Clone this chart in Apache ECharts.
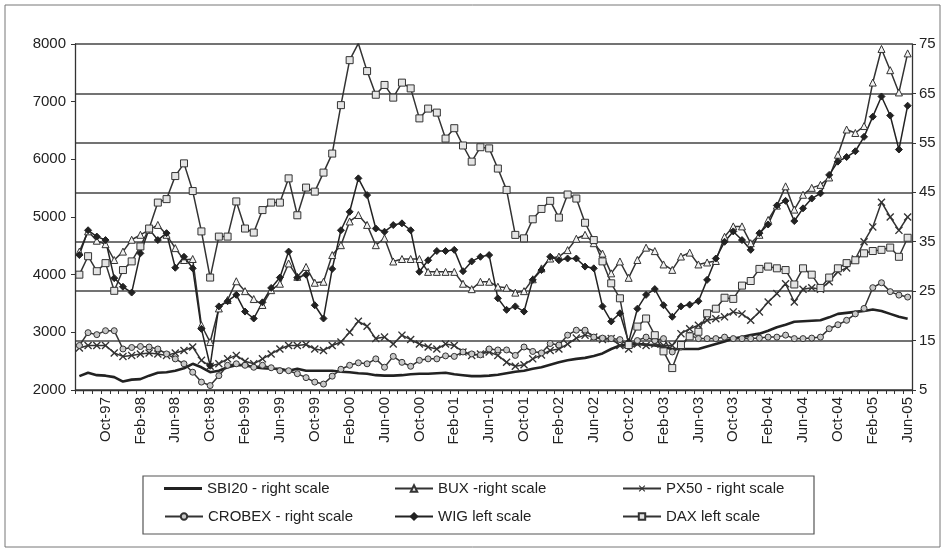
<!DOCTYPE html>
<html>
<head>
<meta charset="utf-8">
<script src="https://cdn.jsdelivr.net/npm/echarts@6/dist/echarts.min.js"></script>
<style>
html,body{margin:0;padding:0;background:#fff;}
#chart{width:949px;height:554px;}
</style>
</head>
<body>
<div id="chart"></div>
<script>
const categories = [
 'Jul-97','Aug-97','Sep-97','Oct-97','Nov-97','Dec-97',
 'Jan-98','Feb-98','Mar-98','Apr-98','May-98','Jun-98','Jul-98','Aug-98','Sep-98','Oct-98','Nov-98','Dec-98',
 'Jan-99','Feb-99','Mar-99','Apr-99','May-99','Jun-99','Jul-99','Aug-99','Sep-99','Oct-99','Nov-99','Dec-99',
 'Jan-00','Feb-00','Mar-00','Apr-00','May-00','Jun-00','Jul-00','Aug-00','Sep-00','Oct-00','Nov-00','Dec-00',
 'Jan-01','Feb-01','Mar-01','Apr-01','May-01','Jun-01','Jul-01','Aug-01','Sep-01','Oct-01','Nov-01','Dec-01',
 'Jan-02','Feb-02','Mar-02','Apr-02','May-02','Jun-02','Jul-02','Aug-02','Sep-02','Oct-02','Nov-02','Dec-02',
 'Jan-03','Feb-03','Mar-03','Apr-03','May-03','Jun-03','Jul-03','Aug-03','Sep-03','Oct-03','Nov-03','Dec-03',
 'Jan-04','Feb-04','Mar-04','Apr-04','May-04','Jun-04','Jul-04','Aug-04','Sep-04','Oct-04','Nov-04','Dec-04',
 'Jan-05','Feb-05','Mar-05','Apr-05','May-05','Jun-05'
];

const leftTicks = { min: 2000, max: 8000, step: 1000 };
const rightTicks = { min: 5, max: 75, step: 10 };

const sbi20 = [
 7.8,8.5,8.0,7.9,7.6,6.7,7.1,7.2,7.9,8.5,8.6,8.9,9.4,10.3,9.6,8.6,8.9,9.6,10.0,10.0,
 9.6,9.4,9.3,9.3,8.9,9.3,8.9,8.9,8.9,8.9,8.7,8.6,8.4,8.3,8.0,7.9,7.9,8.0,8.2,8.3,
 8.3,8.4,8.5,8.2,8.0,7.8,7.8,7.9,8.1,8.4,8.7,8.9,9.3,9.6,10.1,10.6,11.0,11.3,11.5,11.9,
 12.4,13.3,14.0,14.2,14.3,14.2,14.0,13.7,13.3,13.3,13.3,13.3,13.8,14.3,14.8,15.4,15.7,16.1,16.4,17.0,
 17.7,18.2,18.8,18.9,19.0,19.1,19.7,20.4,20.6,20.8,21.0,21.3,21.0,20.4,19.8,19.4
];
const bux = [
 33.0,37.1,35.2,34.5,31.3,33.0,35.4,36.4,37.4,38.4,36.4,33.7,31.3,31.5,18.1,14.7,21.5,23.2,27.0,25.0,
 23.4,22.2,25.2,26.5,30.6,27.9,29.9,26.7,26.9,32.3,34.3,39.1,40.4,38.4,34.3,35.7,31.0,31.5,31.5,31.5,
 28.9,28.9,28.9,28.9,26.5,25.4,26.9,26.9,25.9,25.7,24.7,25.0,27.4,29.6,31.6,32.0,33.3,35.6,36.4,34.7,
 32.6,28.6,31.0,27.7,31.3,33.8,33.1,30.4,29.3,32.0,32.8,30.4,30.8,31.1,36.0,38.1,38.1,34.7,36.4,39.4,
 42.3,46.2,41.5,44.5,45.9,46.5,48.0,52.6,57.7,57.0,58.4,67.2,74.0,69.7,65.2,73.1
];
const px50 = [
 13.5,14.0,14.0,14.0,12.5,11.8,12.0,12.3,12.5,12.3,12.0,12.5,13.0,13.7,11.0,9.8,10.3,11.3,12.0,10.8,
 10.3,11.3,12.3,13.3,14.0,14.0,14.2,13.3,13.0,14.0,14.7,16.7,18.9,17.9,15.4,15.7,14.3,16.1,15.2,14.3,
 13.7,13.3,14.3,14.0,12.7,12.0,12.3,12.7,12.0,10.6,9.8,10.1,11.3,12.1,13.0,13.3,14.3,15.5,16.1,15.7,
 15.2,15.4,14.0,13.3,14.3,14.0,14.3,14.0,14.0,16.4,17.4,18.1,19.1,19.4,19.8,20.8,20.4,19.1,20.8,22.8,
 24.5,26.5,22.8,25.4,25.7,25.4,26.9,28.9,29.7,31.5,35.0,38.0,43.0,40.0,37.3,40.0
];
const crobex = [
 14.0,16.6,16.2,17.0,17.0,13.3,13.6,13.8,13.7,13.3,12.3,11.3,10.3,8.6,6.6,5.9,7.9,10.0,10.3,10.0,
 9.6,10.0,9.5,8.9,8.9,8.3,7.5,6.6,6.2,7.8,9.2,10.0,10.5,10.3,11.3,9.6,11.8,10.6,9.8,11.0,
 11.3,11.3,11.9,11.8,12.7,12.3,12.1,13.3,13.1,13.1,12.0,13.7,12.8,12.5,14.4,14.1,16.1,17.1,17.1,15.7,
 15.5,15.4,15.2,14.0,15.0,15.7,15.0,15.4,12.7,13.7,16.1,15.4,15.4,15.4,15.7,15.4,15.4,15.4,15.5,15.7,
 15.7,16.1,15.4,15.4,15.5,15.7,17.4,18.2,19.1,20.4,21.5,25.7,26.7,24.9,24.2,23.8
];
const wig = [
 4340,4770,4660,4600,3940,3790,3690,4370,4790,4600,4720,4120,4310,4110,3060,2420,3450,3540,3650,3360,
 3240,3520,3770,3950,4400,3950,4000,3470,3240,4100,4770,5090,5670,5380,4800,4745,4860,4890,4770,4050,
 4250,4410,4410,4430,4060,4230,4310,4340,3590,3390,3450,3360,3910,4080,4310,4250,4280,4280,4140,4110,
 3450,3190,3330,2830,3410,3650,3750,3470,3270,3450,3480,3540,3910,4280,4570,4750,4600,4430,4720,4870,
 5200,5280,4930,5150,5320,5410,5730,5960,6040,6140,6390,6740,7090,6760,6170,6930
];
const dax = [
 4000,4320,4060,4200,3720,4080,4230,4490,4800,5250,5310,5710,5930,5450,4750,3950,4660,4660,5270,4800,
 4730,5120,5250,5250,5670,5030,5510,5440,5770,6100,6940,7720,8010,7530,7120,7290,7070,7330,7230,6710,
 6880,6810,6360,6540,6240,5960,6210,6190,5840,5470,4690,4630,4960,5140,5280,4990,5390,5320,4900,4600,
 4230,3850,3590,2780,3100,3240,2950,2670,2380,2780,2930,3010,3330,3410,3600,3580,3810,3890,4100,4140,
 4110,4080,3830,4110,4000,3770,3950,4110,4200,4250,4370,4410,4430,4470,4310,4640
];

const names = ['SBI20 - right scale','BUX -right scale','PX50 - right scale','CROBEX - right scale','WIG left scale','DAX left scale'];

const FONT = 'Liberation Sans, Arial, sans-serif';
const INK = '#333';
const xMark = 'path://M0,1.2L1.2,0L5,3.8L8.8,0L10,1.2L6.2,5L10,8.8L8.8,10L5,6.2L1.2,10L0,8.8L3.8,5Z';
const thickLineIcon = 'path://M0,0H40V3H0Z';

function lineSeries(name, data, yIdx, extra) {
  return Object.assign({
    name: name, type: 'line', data: data, yAxisIndex: yIdx,
    showAllSymbol: true,
    lineStyle: { color: INK, width: 1.5 },
    itemStyle: { color: '#ddd', borderColor: INK, borderWidth: 1 },
    emphasis: { disabled: true },
    animation: false
  }, extra);
}

const chart = echarts.init(document.getElementById('chart'), null, { renderer: 'canvas' });

const legendPos = [[164, 481], [394, 481], [622, 481], [164, 509], [394, 509], [622, 509]];

const option = {
  backgroundColor: '#fff',
  animation: false,
  textStyle: { fontFamily: FONT },
  grid: { left: 75, right: 37, top: 44, bottom: 164 },
  legend: names.map((n, i) => ({
    data: [i === 0 ? { name: n, icon: thickLineIcon, itemStyle: { color: '#222' } } : n],
    left: legendPos[i][0], top: legendPos[i][1], padding: 0,
    itemWidth: 38, itemHeight: 8, itemGap: 0, selectedMode: false,
    textStyle: { fontSize: 15, color: '#222', fontFamily: FONT }
  })),
  xAxis: {
    type: 'category', data: categories, boundaryGap: true,
    axisLine: { lineStyle: { color: INK, width: 1.3 } },
    axisTick: { show: true, interval: 0, length: 4, lineStyle: { color: INK } },
    axisLabel: { interval: function (idx) { return idx % 4 === 3; }, rotate: 90, fontSize: 15, color: '#222', margin: 7, fontFamily: FONT },
    splitLine: { show: false }
  },
  yAxis: [
    {
      type: 'value', position: 'left', min: leftTicks.min, max: leftTicks.max, interval: leftTicks.step,
      axisLine: { show: true, lineStyle: { color: INK, width: 1.3 } },
      axisTick: { show: true, length: 4, lineStyle: { color: INK } },
      axisLabel: { fontSize: 15, color: '#222', margin: 9, fontFamily: FONT, formatter: function (v) { return String(v); } },
      splitLine: { show: false }
    },
    {
      type: 'value', position: 'right', min: rightTicks.min, max: rightTicks.max, interval: rightTicks.step,
      axisLine: { show: true, lineStyle: { color: INK, width: 1.3 } },
      axisTick: { show: true, length: 4, lineStyle: { color: INK } },
      axisLabel: { fontSize: 15, color: '#222', margin: 7, fontFamily: FONT },
      splitLine: { show: true, lineStyle: { color: '#444', width: 1.6 } }
    }
  ],
  graphic: [
    { type: 'rect', shape: { x: 5, y: 5, width: 935, height: 542 }, style: { fill: 'none', stroke: '#777', lineWidth: 1 }, silent: true, z: -1 },
    { type: 'rect', shape: { x: 143, y: 476, width: 671, height: 58 }, style: { fill: 'none', stroke: '#555', lineWidth: 1.2 }, silent: true }
  ],
  series: [
    lineSeries(names[0], sbi20, 1, { symbol: 'none', showSymbol: false, lineStyle: { color: '#222', width: 2.6 }, itemStyle: { color: '#222' } }),
    lineSeries(names[1], bux, 1, { symbol: 'triangle', symbolSize: 7, itemStyle: { color: '#f2f2f2', borderColor: INK, borderWidth: 1 } }),
    lineSeries(names[2], px50, 1, { symbol: xMark, symbolSize: 8, itemStyle: { color: INK, borderWidth: 0 } }),
    lineSeries(names[3], crobex, 1, { symbol: 'circle', symbolSize: 6, itemStyle: { color: '#c8c8c8', borderColor: INK, borderWidth: 1 } }),
    lineSeries(names[4], wig, 0, { symbol: 'diamond', symbolSize: 7, lineStyle: { color: '#222', width: 1.5 }, itemStyle: { color: '#222', borderColor: '#222', borderWidth: 1 } }),
    lineSeries(names[5], dax, 0, { symbol: 'rect', symbolSize: 7, itemStyle: { color: '#e4e4e4', borderColor: INK, borderWidth: 1 } })
  ]
};
chart.setOption(option);
</script>
</body>
</html>
